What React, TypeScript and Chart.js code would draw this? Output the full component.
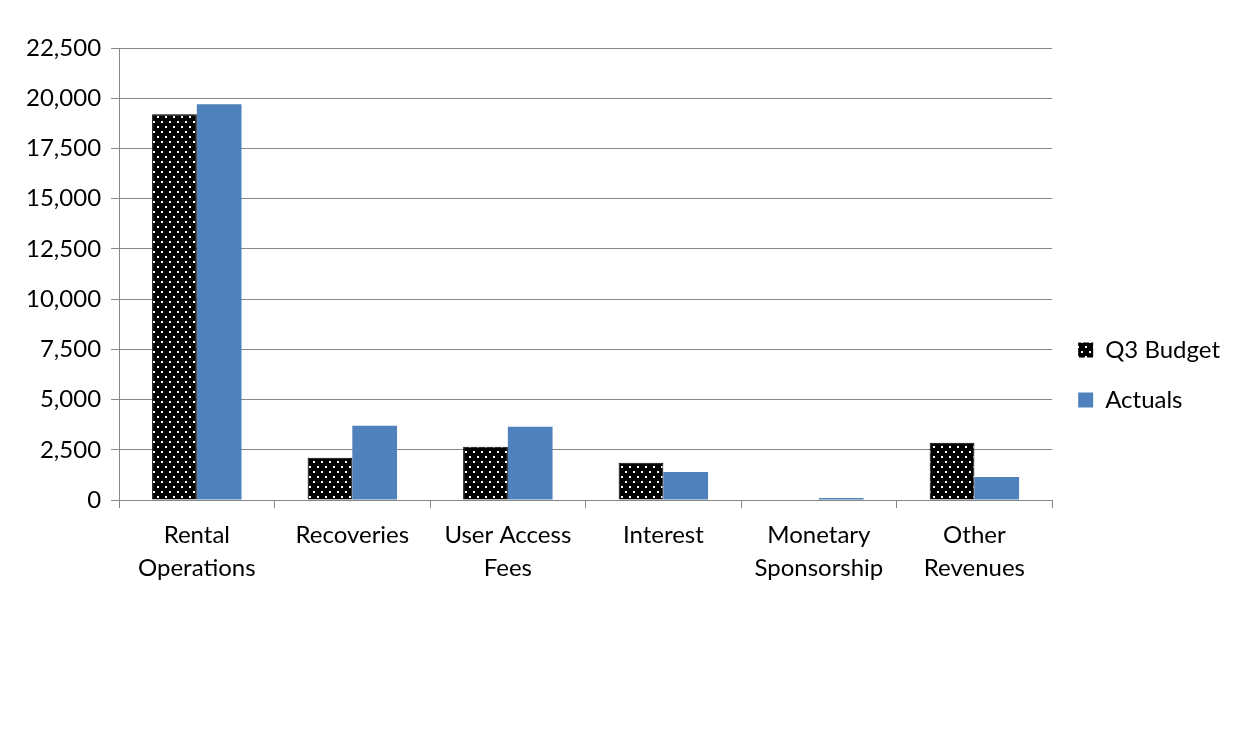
import React, { useEffect, useRef } from "react";
import { Chart, registerables } from "chart.js";

Chart.register(...registerables);

const categories: (string | string[])[] = [
  ["Rental", "Operations"],
  "Recoveries",
  ["User Access", "Fees"],
  "Interest",
  ["Monetary", "Sponsorship"],
  ["Other", "Revenues"],
];
const budgetValues = [19200, 2100, 2650, 1850, 0, 2850];
const actualValues = [19700, 3700, 3650, 1400, 100, 1150];
const yTicks = [0, 2500, 5000, 7500, 10000, 12500, 15000, 17500, 20000, 22500];

function makePattern(): CanvasPattern | string {
  const c = document.createElement("canvas");
  c.width = 8;
  c.height = 10;
  const g = c.getContext("2d");
  if (!g) return "#000";
  g.fillStyle = "#000";
  g.fillRect(0, 0, 8, 10);
  g.fillStyle = "#fff";
  g.fillRect(1, 1, 2, 2);
  g.fillRect(5, 6, 2, 2);
  const p = g.createPattern(c, "repeat");
  return p || "#000";
}

export default function App() {
  const ref = useRef<HTMLCanvasElement>(null);
  useEffect(() => {
    document.body.style.margin = "0";
    if (!ref.current) return;
    const pattern = makePattern();
    const font = { family: "Lato, sans-serif", size: 24, lineHeight: 1.4 };
    const chart = new Chart(ref.current, {
      type: "bar",
      data: {
        labels: categories,
        datasets: [
          {
            label: "Q3 Budget",
            data: budgetValues,
            backgroundColor: pattern as any,
            borderColor: "#000",
            borderWidth: 1,
            categoryPercentage: 0.575,
            barPercentage: 1,
          },
          {
            label: "Actuals",
            data: actualValues,
            backgroundColor: "#4f81bd",
            borderColor: "#4f81bd",
            borderWidth: 0,
            categoryPercentage: 0.575,
            barPercentage: 1,
          },
        ],
      },
      options: {
        animation: false,
        responsive: true,
        maintainAspectRatio: false,
        layout: { padding: { top: 48, left: 16, right: 22, bottom: 27 } },
        plugins: {
          tooltip: { enabled: false },
          legend: {
            position: "right",
            labels: {
              boxWidth: 15,
              boxHeight: 15,
              padding: 26,
              color: "#000",
              font,
              generateLabels: (ch: any) =>
                ch.data.datasets.map((d: any, i: number) => ({
                  text: d.label,
                  fillStyle: d.backgroundColor,
                  strokeStyle: d.backgroundColor,
                  lineWidth: 0,
                  datasetIndex: i,
                  hidden: false,
                  fontColor: "#000",
                })),
            },
          },
        },
        scales: {
          x: {
            offset: true,
            afterFit: (axis: any) => {
              axis.height = 202;
            },
            grid: {
              display: true,
              drawOnChartArea: false,
              offset: true,
              tickLength: 8,
              color: "#868686",
            },
            border: { color: "#868686" },
            ticks: { color: "#000", font, padding: 10, maxRotation: 0 },
          },
          y: {
            min: 0,
            max: 22500,
            afterBuildTicks: (axis: any) => {
              axis.ticks = yTicks.map((v) => ({ value: v }));
            },
            grid: { color: "#868686", tickLength: 8 },
            border: { color: "#868686" },
            ticks: {
              color: "#000",
              font,
              padding: 10,
              callback: (v: any) => Number(v).toLocaleString("en-US"),
            },
          },
        },
      },
    });
    return () => chart.destroy();
  }, []);
  return (
    <div style={{ width: 1252, height: 729, position: "relative", background: "#fff" }}>
      <canvas ref={ref} />
    </div>
  );
}
